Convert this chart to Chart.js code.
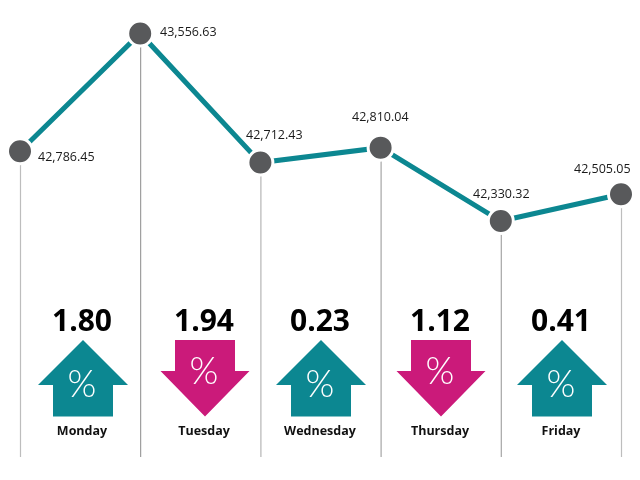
<!DOCTYPE html>
<html>
<head>
<meta charset="utf-8">
<script src="https://cdn.jsdelivr.net/npm/chart.js@4"></script>
<style>
html,body{margin:0;padding:0;background:#fff}
#wrap{width:640px;height:480px;position:relative}
</style>
</head>
<body>
<div id="wrap"><canvas id="c" width="640" height="480"></canvas></div>
<script>
const days = ["Monday","Tuesday","Wednesday","Thursday","Friday"];
const categories = ["Monday","Tuesday","Wednesday","Thursday","Friday","Close"];
const indexValues = [42786.45,43556.63,42712.43,42810.04,42330.32,42505.05];
const valueLabels = ["42,786.45","43,556.63","42,712.43","42,810.04","42,330.32","42,505.05"];
const changes = ["1.80","1.94","0.23","1.12","0.41"];
const directions = ["up","down","up","down","up"];

const TEAL = "#0c8791", MAGENTA = "#cb1a7a", GREY = "#58595b";
const labelLeft = [38,160,246,352,473,574];
const labelMid = [157,32,135,117,194,169];
const arrowCentre = [83,205,321,441,562];
const lineShade = ["#bdbdbd","#8a8a8a","#b5b5b5","#a5a5a5","#a5a5a5","#bdbdbd"];

const overlay = {
  id: "overlay",
  beforeDatasetsDraw(chart){
    const {ctx, scales:{x,y}} = chart;
    ctx.save();
    indexValues.forEach((v,i)=>{
      const px = x.getPixelForValue(i) , py = y.getPixelForValue(v);
      ctx.strokeStyle = lineShade[i];
      ctx.lineWidth = i===1 ? 1 : 1.2;
      ctx.beginPath();
      ctx.moveTo(px+0.5, py+13);
      ctx.lineTo(px+0.5, 457);
      ctx.stroke();
    });
    ctx.restore();
  },
  afterDatasetsDraw(chart){
    const {ctx} = chart;
    ctx.save();
    ctx.textBaseline = "middle";
    ctx.fillStyle = "#1a1a1a";
    ctx.font = '12.5px "Open Sans"';
    ctx.textAlign = "left";
    valueLabels.forEach((t,i)=>ctx.fillText(t,labelLeft[i],labelMid[i]));
    days.forEach((d,i)=>{
      const c = arrowCentre[i], up = directions[i]==="up";
      ctx.fillStyle = "#000";
      ctx.textAlign = "center";
      ctx.font = 'bold 30px "Open Sans"';
      ctx.fillText(changes[i],c-1,322);
      ctx.font = 'bold 12.5px "Open Sans"';
      ctx.fillStyle = "#111";
      ctx.fillText(d,c-1,431);
      ctx.fillStyle = up ? TEAL : MAGENTA;
      ctx.beginPath();
      if(up){
        ctx.moveTo(c,340);ctx.lineTo(c+45,385);ctx.lineTo(c+30,385);ctx.lineTo(c+30,416.5);
        ctx.lineTo(c-30,416.5);ctx.lineTo(c-30,385);ctx.lineTo(c-45,385);
      }else{
        ctx.moveTo(c-30,340);ctx.lineTo(c+30,340);ctx.lineTo(c+30,371);ctx.lineTo(c+44.5,371);
        ctx.lineTo(c,416.5);ctx.lineTo(c-44.5,371);ctx.lineTo(c-30,371);
      }
      ctx.closePath();ctx.fill();
      ctx.fillStyle = "#fff";
      ctx.font = '300 37px Lato';
      ctx.fillText("%",c-1,up?385:372);
    });
    ctx.restore();
  }
};

new Chart(document.getElementById("c"),{
  type:"line",
  data:{labels:categories,datasets:[{
    data:indexValues,
    borderColor:TEAL,borderWidth:5,tension:0,
    pointRadius:12.5,pointHoverRadius:12.5,
    pointBackgroundColor:GREY,pointBorderColor:"#fff",pointBorderWidth:3,
    clip:false
  }]},
  options:{
    responsive:false,animation:false,
    layout:{padding:{left:20,right:19,top:0,bottom:0}},
    plugins:{legend:{display:false},tooltip:{enabled:false},title:{display:false}},
    scales:{
      x:{display:false},
      y:{display:false,bounds:"data",min:40738.6,max:43674.0}
    }
  },
  plugins:[overlay]
});
</script>
</body>
</html>
